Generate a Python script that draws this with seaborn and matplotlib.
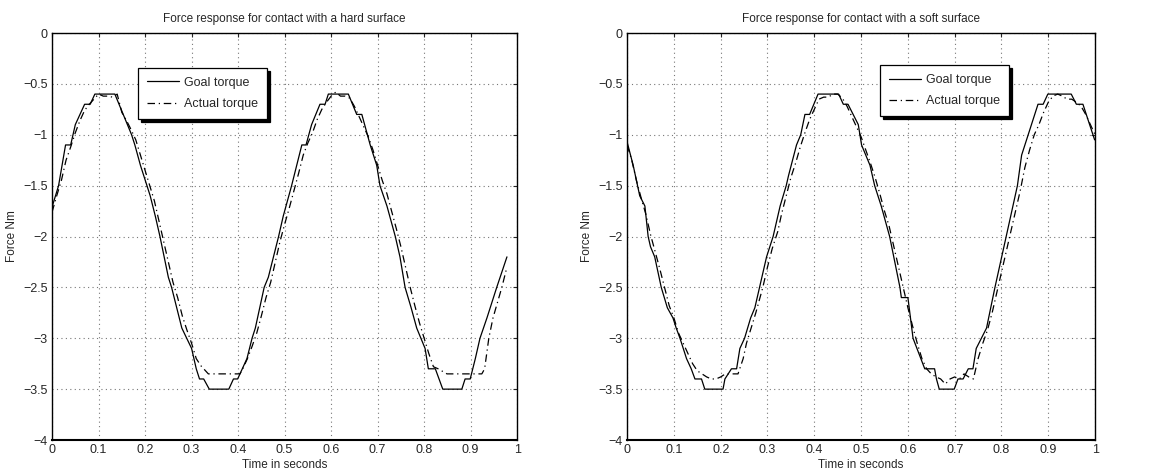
import pandas as pd
import matplotlib
matplotlib.use('Agg')
import matplotlib.pyplot as plt
import seaborn as sns
from matplotlib.ticker import FuncFormatter

# values
hard_goal_t = [0.000, 0.014, 0.029, 0.040, 0.050, 0.060, 0.070, 0.082, 0.092, 0.135, 0.153, 0.171, 0.178, 0.190,
               0.204, 0.211, 0.222, 0.232, 0.250, 0.257, 0.268, 0.279, 0.300, 0.310, 0.317, 0.326, 0.338, 0.380,
               0.390, 0.399, 0.419, 0.430, 0.437, 0.456, 0.465, 0.476, 0.487, 0.497, 0.515, 0.526, 0.537, 0.546,
               0.558, 0.576, 0.587, 0.594, 0.637, 0.655, 0.666, 0.684, 0.698, 0.705, 0.720, 0.738, 0.748, 0.759,
               0.772, 0.784, 0.802, 0.809, 0.824, 0.840, 0.881, 0.888, 0.899, 0.910, 0.920, 0.935, 0.956, 0.978]
hard_goal = [-1.71, -1.5, -1.1, -1.1, -0.9, -0.8, -0.7, -0.7, -0.6, -0.6, -0.8, -1.0, -1.1, -1.3,
             -1.5, -1.6, -1.8, -2.0, -2.4, -2.5, -2.7, -2.9, -3.1, -3.3, -3.4, -3.4, -3.5, -3.5,
             -3.4, -3.4, -3.2, -3.0, -2.9, -2.5, -2.4, -2.2, -2.0, -1.8, -1.5, -1.3, -1.1, -1.1,
             -0.9, -0.7, -0.7, -0.6, -0.6, -0.8, -0.8, -1.1, -1.3, -1.5, -1.7, -2.0, -2.2, -2.5,
             -2.7, -2.9, -3.1, -3.3, -3.3, -3.5, -3.5, -3.4, -3.4, -3.2, -3.0, -2.8, -2.5, -2.2]

hard_act_t = [0.000, 0.010, 0.020, 0.030, 0.040, 0.050, 0.060, 0.070, 0.080, 0.090, 0.100, 0.110, 0.120, 0.130,
              0.140, 0.150, 0.160, 0.170, 0.180, 0.190, 0.200, 0.210, 0.220, 0.230, 0.240, 0.250, 0.260, 0.270,
              0.280, 0.290, 0.300, 0.310, 0.320, 0.336, 0.404, 0.410, 0.420, 0.430, 0.440, 0.450, 0.460, 0.470,
              0.480, 0.490, 0.500, 0.510, 0.520, 0.530, 0.540, 0.550, 0.560, 0.570, 0.580, 0.590, 0.600, 0.610,
              0.620, 0.630, 0.640, 0.650, 0.660, 0.670, 0.680, 0.690, 0.700, 0.710, 0.720, 0.730, 0.740, 0.750,
              0.760, 0.770, 0.780, 0.790, 0.800, 0.810, 0.820, 0.830, 0.849, 0.924, 0.930, 0.939, 0.948, 0.967,
              0.978]
hard_act = [-1.76, -1.6, -1.45, -1.25, -1.12, -0.98, -0.86, -0.76, -0.7, -0.65, -0.6, -0.62, -0.62, -0.63,
            -0.6, -0.78, -0.86, -0.95, -1.05, -1.2, -1.35, -1.5, -1.65, -1.85, -2.05, -2.25, -2.45, -2.6,
            -2.78, -2.92, -3.05, -3.2, -3.27, -3.35, -3.35, -3.3, -3.2, -3.08, -2.95, -2.78, -2.6, -2.45,
            -2.25, -2.05, -1.88, -1.72, -1.55, -1.38, -1.2, -1.08, -0.98, -0.85, -0.75, -0.68, -0.62, -0.58,
            -0.62, -0.62, -0.64, -0.72, -0.82, -0.92, -1.02, -1.15, -1.3, -1.45, -1.58, -1.75, -1.92, -2.1,
            -2.3, -2.5, -2.68, -2.85, -3.0, -3.15, -3.28, -3.3, -3.35, -3.35, -3.3, -3.0, -2.8, -2.5,
            -2.3]

soft_goal_t = [0.000, 0.013, 0.027, 0.038, 0.045, 0.050, 0.059, 0.073, 0.086, 0.098, 0.105, 0.113, 0.127, 0.137,
               0.145, 0.159, 0.166, 0.205, 0.209, 0.223, 0.234, 0.241, 0.251, 0.264, 0.273, 0.283, 0.298, 0.312,
               0.327, 0.340, 0.345, 0.362, 0.371, 0.380, 0.390, 0.408, 0.452, 0.462, 0.472, 0.494, 0.501, 0.519,
               0.529, 0.543, 0.561, 0.583, 0.586, 0.600, 0.611, 0.636, 0.657, 0.661, 0.667, 0.699, 0.707, 0.718,
               0.729, 0.739, 0.746, 0.768, 0.786, 0.810, 0.834, 0.843, 0.857, 0.878, 0.889, 0.899, 0.949, 0.960,
               0.974, 0.999]
soft_goal = [-1.07, -1.3, -1.6, -1.7, -2.0, -2.1, -2.2, -2.5, -2.7, -2.8, -2.9, -3.0, -3.2, -3.3,
             -3.4, -3.4, -3.5, -3.5, -3.4, -3.3, -3.3, -3.1, -3.0, -2.8, -2.7, -2.5, -2.2, -2.0,
             -1.7, -1.5, -1.4, -1.1, -1.0, -0.8, -0.8, -0.6, -0.6, -0.7, -0.7, -0.9, -1.1, -1.3,
             -1.5, -1.7, -2.0, -2.5, -2.6, -2.6, -3.0, -3.3, -3.3, -3.4, -3.5, -3.5, -3.4, -3.4,
             -3.3, -3.3, -3.1, -2.9, -2.5, -2.0, -1.5, -1.2, -1.0, -0.7, -0.7, -0.6, -0.6, -0.7,
             -0.7, -1.05]

soft_act_t = [0.000, 0.010, 0.020, 0.030, 0.040, 0.050, 0.060, 0.070, 0.080, 0.090, 0.100, 0.110, 0.120, 0.130,
              0.140, 0.150, 0.160, 0.170, 0.180, 0.190, 0.200, 0.210, 0.237, 0.248, 0.255, 0.265, 0.275, 0.290,
              0.300, 0.310, 0.322, 0.330, 0.340, 0.350, 0.360, 0.370, 0.380, 0.390, 0.400, 0.410, 0.420, 0.430,
              0.440, 0.450, 0.460, 0.470, 0.480, 0.490, 0.500, 0.510, 0.520, 0.530, 0.540, 0.550, 0.560, 0.570,
              0.580, 0.590, 0.600, 0.610, 0.620, 0.630, 0.640, 0.650, 0.660, 0.670, 0.680, 0.690, 0.700, 0.710,
              0.720, 0.730, 0.740, 0.750, 0.760, 0.770, 0.780, 0.790, 0.800, 0.810, 0.820, 0.830, 0.840, 0.850,
              0.860, 0.870, 0.880, 0.890, 0.900, 0.910, 0.920, 0.930, 0.940, 0.950, 0.960, 0.970, 0.980, 0.990,
              1.000]
soft_act = [-1.1, -1.25, -1.45, -1.62, -1.78, -1.98, -2.15, -2.32, -2.5, -2.68, -2.8, -2.95, -3.05, -3.15,
            -3.25, -3.32, -3.35, -3.38, -3.4, -3.4, -3.38, -3.35, -3.35, -3.2, -3.05, -2.9, -2.75, -2.5,
            -2.3, -2.12, -1.95, -1.78, -1.6, -1.42, -1.28, -1.12, -0.98, -0.85, -0.75, -0.65, -0.63, -0.63,
            -0.6, -0.6, -0.64, -0.72, -0.82, -0.92, -1.02, -1.15, -1.28, -1.42, -1.58, -1.75, -1.9, -2.1,
            -2.3, -2.5, -2.7, -2.88, -3.05, -3.2, -3.3, -3.35, -3.38, -3.4, -3.45, -3.4, -3.38, -3.4,
            -3.35, -3.38, -3.4, -3.2, -3.05, -2.92, -2.75, -2.55, -2.35, -2.15, -1.95, -1.75, -1.55, -1.32,
            -1.15, -1.0, -0.9, -0.78, -0.68, -0.62, -0.6, -0.62, -0.65, -0.65, -0.68, -0.72, -0.8, -0.9,
            -1.0]

titles = ['Force response for contact with a hard surface', 'Force response for contact with a soft surface']
x_ticks = [0, 0.1, 0.2, 0.3, 0.4, 0.5, 0.6, 0.7, 0.8, 0.9, 1]
y_ticks = [0, -0.5, -1, -1.5, -2, -2.5, -3, -3.5, -4]

sns.set_style('white')
plt.rcParams['font.family'] = ['Liberation Sans', 'DejaVu Sans']
plt.rcParams['font.size'] = 8

fig = plt.figure(figsize=(11.57, 4.76), dpi=100)
ax1 = fig.add_axes([0.045, 0.0756, 0.402, 0.855])
ax2 = fig.add_axes([0.542, 0.0756, 0.4045, 0.855])

fmt = FuncFormatter(lambda v, p: ('%g' % v).replace('-', '\u2212'))
panels = [(ax1, hard_goal_t, hard_goal, hard_act_t, hard_act, (0.185, 0.914)),
          (ax2, soft_goal_t, soft_goal, soft_act_t, soft_act, (0.54, 0.921))]

for i, (ax, gt, g, at, a, loc) in enumerate(panels):
    sns.lineplot(x=gt, y=g, ax=ax, color='black', lw=0.9, label='Goal torque')
    sns.lineplot(x=at, y=a, ax=ax, color='black', lw=0.9, linestyle=(0, (6, 3, 1, 3)), label='Actual torque')
    ax.set_xlim(0, 1)
    ax.set_ylim(-4, 0)
    ax.set_xticks(x_ticks)
    ax.set_yticks(y_ticks)
    ax.xaxis.set_major_formatter(fmt)
    ax.yaxis.set_major_formatter(fmt)
    ax.tick_params(direction='in', top=True, right=True, length=3, width=0.8, labelsize=9, pad=3)
    ax.grid(True, linestyle=(0, (1, 3)), color='#777777', linewidth=0.8)
    for s in ax.spines.values():
        s.set_color('black')
        s.set_linewidth(1.0)
    ax.spines['bottom'].set_linewidth(1.5)
    ax.set_title(titles[i], fontsize=8.5, pad=8)
    ax.set_xlabel('Time in seconds', fontsize=8.5, labelpad=2)
    ax.set_ylabel('Force Nm', fontsize=8.5, labelpad=4)
    leg = ax.legend(loc='upper left', bbox_to_anchor=loc, borderaxespad=0, frameon=True, fancybox=False,
                    edgecolor='black', framealpha=1, fontsize=9, handlelength=2.6,
                    borderpad=0.7, labelspacing=0.75, handletextpad=0.4,
                    shadow={'color': 'black', 'alpha': 1})
    leg.get_frame().set_linewidth(0.9)

fig.savefig('out.png', dpi=100)
